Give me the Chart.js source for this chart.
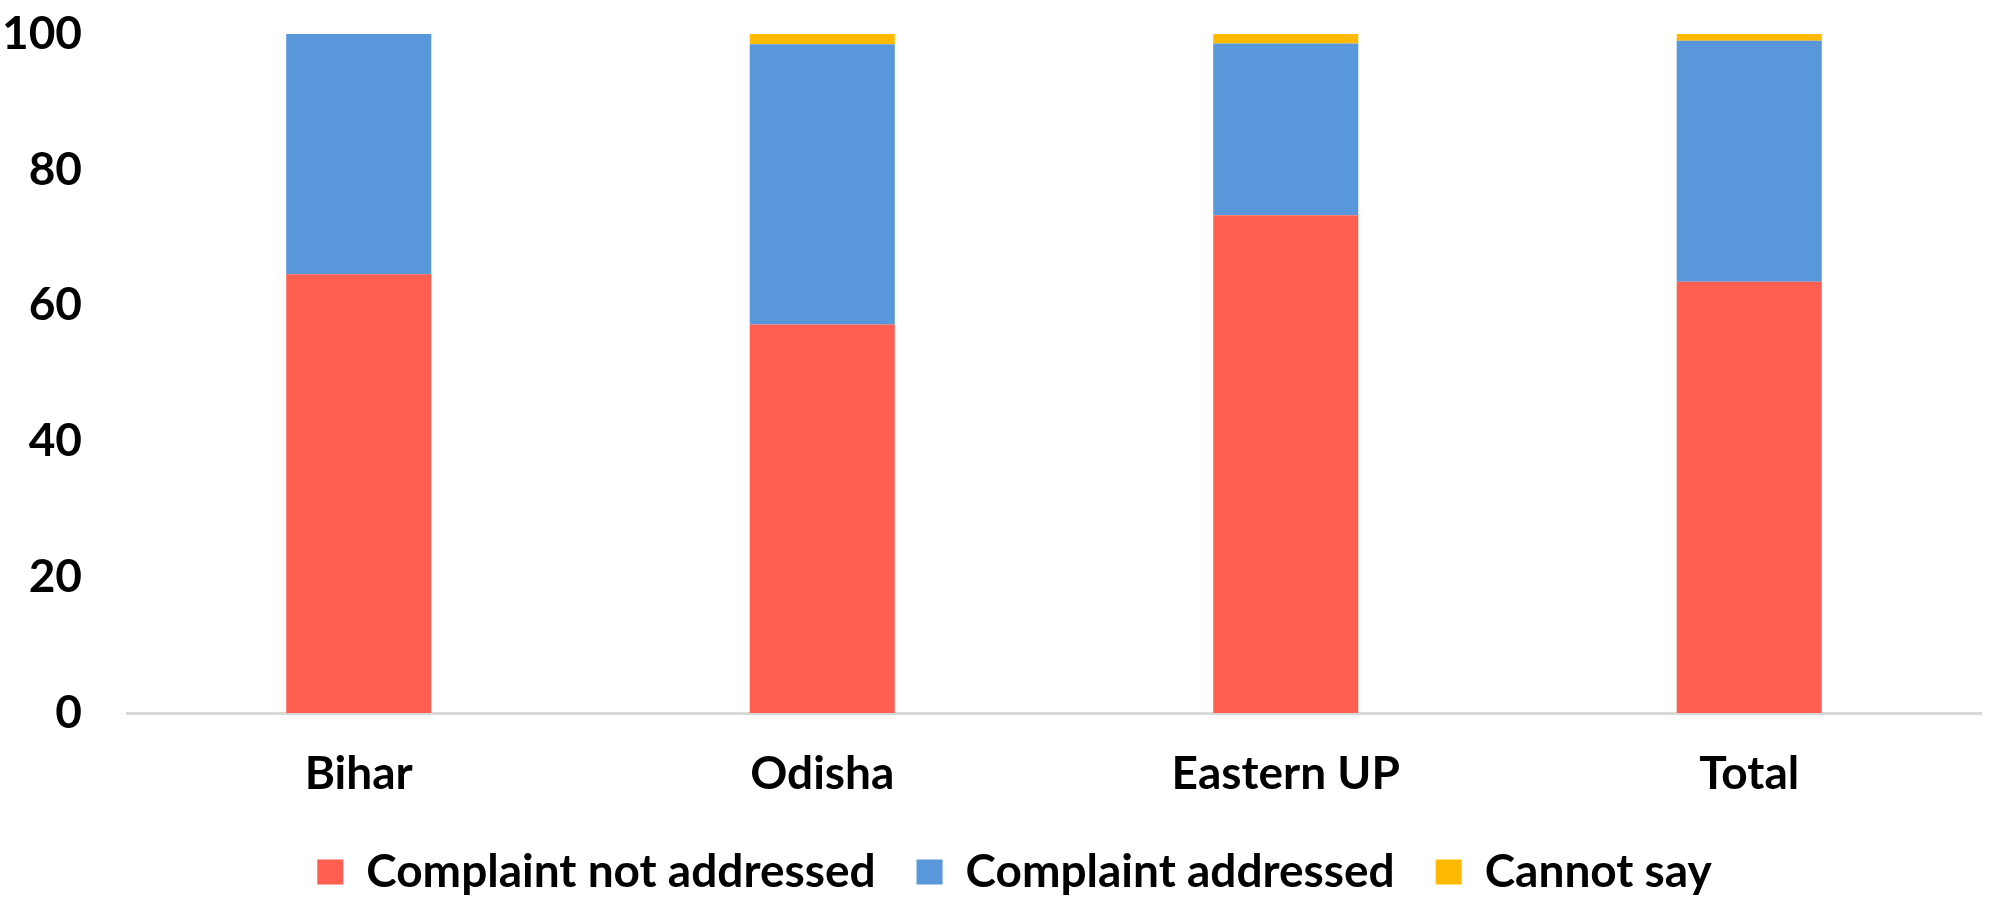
<!DOCTYPE html>
<html>
<head>
<meta charset="utf-8">
<style>
  html, body { margin: 0; padding: 0; background: #fff; }
  #wrap { width: 1998px; height: 907px; }
</style>
<script src="https://cdn.jsdelivr.net/npm/chart.js@4.4.1/dist/chart.umd.min.js"></script>
</head>
<body>
<div id="wrap"><canvas id="chart"></canvas></div>
<script>
// Values (percent of respondents)
const regions = ["Bihar", "Odisha", "Eastern UP", "Total"];
const notAddressed = [64.6, 57.2, 73.3, 63.5];
const addressed = [35.4, 41.3, 25.3, 35.5];
const cannotSay = [0, 1.5, 1.4, 1.0];
const yTicks = [0, 20, 40, 60, 80, 100];

const COLORS = {
    notAddressed: '#ff5f51',
    addressed: '#5898da',
    cannotSay: '#ffb900'
};

Chart.defaults.font.family = "Lato, 'Open Sans', sans-serif";
Chart.defaults.font.weight = 'bold';
Chart.defaults.font.size = 46;
Chart.defaults.color = '#000';

// The source centres its legend under the plot area rather than the canvas,
// so nudge the legend box after layout.
const legendShift = {
    id: 'legendShift',
    afterLayout(chart) {
        if (chart.legend) chart.legend.left += 48;
    }
};

const ctx = document.getElementById('chart').getContext('2d');

new Chart(ctx, {
    type: 'bar',
    data: {
        labels: regions,
        datasets: [
            { label: 'Complaint not addressed', data: notAddressed, backgroundColor: COLORS.notAddressed },
            { label: 'Complaint addressed', data: addressed, backgroundColor: COLORS.addressed },
            { label: 'Cannot say', data: cannotSay, backgroundColor: COLORS.cannotSay }
        ]
    },
    options: {
        responsive: true,
        maintainAspectRatio: false,
        animation: false,
        layout: { padding: { left: 0, right: 17, top: 0, bottom: 2 } },
        datasets: {
            bar: { categoryPercentage: 1, barPercentage: 0.313, borderWidth: 0 }
        },
        scales: {
            x: {
                stacked: true,
                afterFit: axis => { axis.height = 95; },
                grid: { display: false, drawTicks: false },
                border: { display: true, color: '#d9d9d9', width: 3 },
                ticks: { padding: 34 }
            },
            y: {
                stacked: true,
                min: 0,
                max: 100,
                afterBuildTicks: axis => { axis.ticks = yTicks.map(v => ({ value: v })); },
                afterFit: axis => {
                    axis.width = 127;
                    axis.paddingTop = 34;
                    axis.paddingBottom = 0;
                },
                grid: { display: false, drawTicks: false },
                border: { display: false },
                ticks: { padding: 45 }
            }
        },
        plugins: {
            legend: {
                position: 'bottom',
                labels: {
                    boxWidth: 26,
                    boxHeight: 25,
                    padding: 41
                }
            },
            tooltip: { enabled: false }
        }
    },
    plugins: [legendShift]
});
</script>
</body>
</html>
